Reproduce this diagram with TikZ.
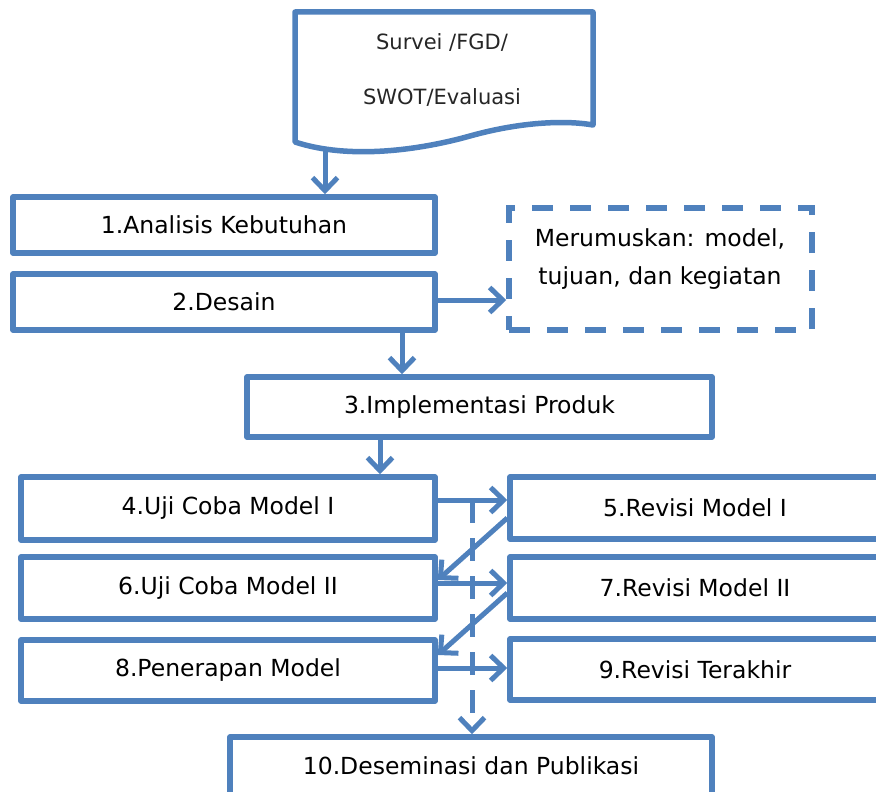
\documentclass[tikz,border=0pt]{standalone}
\usepackage{fontspec}
\setmainfont{DejaVu Sans}
\usetikzlibrary{arrows.meta,calc}
\definecolor{sblue}{HTML}{4F81BD}
\begin{document}
\begin{tikzpicture}[x=1pt,y=-1pt,
  box/.style={draw=sblue, line width=5.5pt, line join=round, fill=white, inner sep=0pt,
    font=\fontsize{23.5}{28}\selectfont, text=black},
  dbox/.style={draw=sblue, line width=5.5pt, dash pattern=on 21pt off 17pt, inner sep=0pt},
  arr/.style={draw=sblue, line width=5pt, -{Straight Barb[length=13pt,width=25pt,line width=5pt]}},
  darr/.style={arr, dash pattern=on 23pt off 15pt},
  lbl/.style={font=\fontsize{23.5}{38}\selectfont, align=center, inner sep=0pt},
  doclbl/.style={font=\fontsize{21}{55}\selectfont, align=center, inner sep=0pt, text=black!85}]
\useasboundingbox (0,0) rectangle (876,792);
\clip (0,0) rectangle (876,792);

% document shape
\draw[sblue, line width=5.5pt, line join=round, fill=white]
  (295,12) -- (593,12) -- (593,125)
  .. controls (565,120) and (520,122) .. (470,136)
  .. controls (420,150) and (350,160) .. (295,142) -- cycle;
\node[doclbl] (doc) at (442,69.5) {Survei /FGD/\\SWOT/Evaluasi};
\coordinate (docb) at (325,151);

\node[box, minimum width=422pt, minimum height=56pt] (b1) at (224,225) {1.Analisis Kebutuhan};
\node[box, minimum width=422pt, minimum height=56pt] (b2) at (224,302) {2.Desain};
\node[dbox, minimum width=303pt, minimum height=122pt] (d) at (660.5,269) {};
\node[lbl] (dt) at (660,259) {Merumuskan: model,\\tujuan, dan kegiatan};
\node[box, minimum width=465pt, minimum height=60pt] (b3) at (479.5,407) {3.Implementasi Produk};
\node[box, minimum width=414pt, minimum height=63pt] (b4) at (228,508.5) {4.Uji Coba Model I};
\node[box, minimum width=414pt, minimum height=62pt] (b6) at (228,588) {6.Uji Coba Model II};
\node[box, minimum width=414pt, minimum height=61pt] (b8) at (228,670.5) {8.Penerapan Model};
\node[box, minimum width=370pt, minimum height=62pt] (b5) at (695,508) {5.Revisi Model I};
\node[box, minimum width=370pt, minimum height=62pt] (b7) at (695,588) {7.Revisi Model II};
\node[box, minimum width=370pt, minimum height=61pt] (b9) at (695,669.5) {9.Revisi Terakhir};
\node[box, minimum width=482pt, minimum height=58pt] (b10) at (471,766) {10.Deseminasi dan Publikasi};

% connectors
\draw[arr] (docb) -- (docb |- b1.north);
\draw[arr] (b2.east |- 0,300) -- (d.west |- 0,300);
\draw[arr] (b2.south -| 402,0) -- (b3.north -| 402,0);
\draw[arr] (b3.south -| 380,0) -- (b4.north -| 380,0);
\draw[arr] (b4.east |- 0,500) -- (b5.west |- 0,500);
\draw[arr] (b5.west |- 0,518) -- (b6.east |- 440,580);
\draw[arr] (b6.east |- 0,583) -- (b7.west |- 0,583);
\draw[arr] (b7.west |- 0,593) -- (b8.east |- 0,655);
\draw[arr] (b8.east |- 0,668) -- (b9.west |- 0,668);
\draw[darr] (472,500) -- (b10.north -| 472,0);
\end{tikzpicture}
\end{document}
